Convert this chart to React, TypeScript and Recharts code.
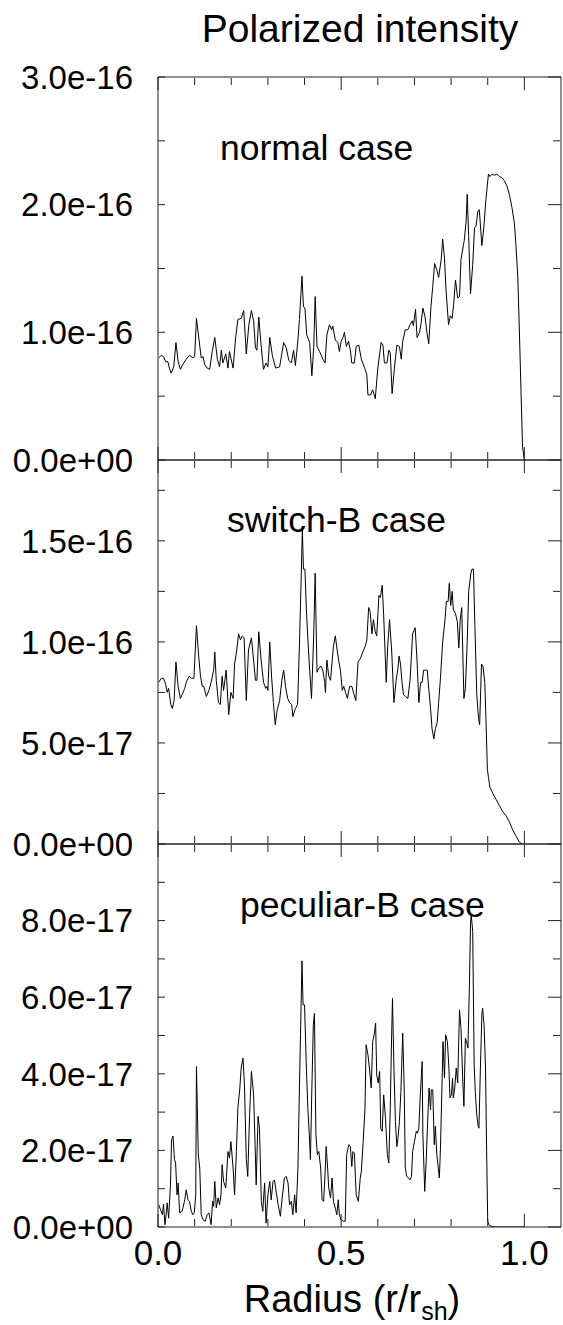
import React from "react";
import { Line, LineChart, XAxis, YAxis } from "recharts";

const FONT = "'Liberation Sans', Arial, Helvetica, sans-serif";

// radius r/r_sh, polarized intensity in units of 1e-16
const normalCase: [number, number][] = [
  [0.002, 0.8], [0.009, 0.82], [0.015, 0.81], [0.021, 0.77], [0.027, 0.77], [0.03, 0.73], [0.036, 0.68],
  [0.043, 0.73], [0.049, 0.92], [0.055, 0.77], [0.061, 0.71], [0.068, 0.75], [0.077, 0.79], [0.086, 0.82],
  [0.095, 0.8], [0.1, 0.81], [0.105, 1.11], [0.112, 0.94], [0.118, 0.8], [0.123, 0.81], [0.127, 0.75],
  [0.134, 0.72], [0.141, 0.71], [0.148, 0.85], [0.155, 0.96], [0.162, 0.79], [0.168, 0.73], [0.173, 0.86],
  [0.177, 0.76], [0.185, 0.83], [0.191, 0.72], [0.195, 0.85], [0.205, 0.72], [0.212, 0.96], [0.218, 1.1],
  [0.227, 1.11], [0.234, 1.17], [0.241, 0.83], [0.248, 1.06], [0.255, 1.17], [0.261, 1.09], [0.266, 0.88],
  [0.27, 0.86], [0.275, 1.12], [0.282, 0.88], [0.288, 0.71], [0.295, 0.76], [0.3, 0.73], [0.305, 0.96],
  [0.312, 0.82], [0.321, 0.72], [0.332, 0.73], [0.343, 0.92], [0.35, 0.88], [0.357, 0.78], [0.364, 0.76],
  [0.37, 0.86], [0.375, 0.74], [0.382, 0.94], [0.386, 1.1], [0.393, 1.44], [0.397, 1.2], [0.401, 1.19],
  [0.406, 0.98], [0.414, 0.92], [0.42, 0.66], [0.425, 0.88], [0.429, 1.28], [0.434, 0.89], [0.441, 0.85],
  [0.45, 0.79], [0.456, 0.76], [0.461, 0.98], [0.468, 1.06], [0.474, 1.02], [0.477, 1.05], [0.484, 0.94],
  [0.491, 0.92], [0.495, 0.85], [0.5, 0.93], [0.505, 0.96], [0.509, 1.0], [0.514, 0.89], [0.52, 0.93],
  [0.525, 0.86], [0.529, 0.76], [0.536, 0.76], [0.541, 0.89], [0.548, 0.9], [0.555, 0.79], [0.564, 0.72],
  [0.57, 0.67], [0.573, 0.51], [0.58, 0.51], [0.586, 0.55], [0.593, 0.48], [0.6, 0.72], [0.609, 0.92],
  [0.614, 0.9], [0.618, 0.76], [0.625, 0.76], [0.63, 0.86], [0.634, 0.84], [0.639, 0.52], [0.645, 0.71],
  [0.652, 0.9], [0.659, 0.89], [0.664, 0.79], [0.668, 0.93], [0.675, 1.02], [0.682, 1.02], [0.688, 1.06],
  [0.694, 1.09], [0.697, 1.05], [0.703, 1.18], [0.707, 0.96], [0.714, 1.0], [0.718, 1.07], [0.723, 1.19],
  [0.729, 1.12], [0.734, 1.0], [0.739, 0.91], [0.745, 1.2], [0.75, 1.36], [0.755, 1.54], [0.761, 1.49],
  [0.766, 1.43], [0.773, 1.57], [0.777, 1.73], [0.782, 1.58], [0.786, 1.34], [0.793, 1.06], [0.798, 1.13],
  [0.803, 1.11], [0.807, 1.22], [0.812, 1.41], [0.818, 1.27], [0.823, 1.28], [0.827, 1.57], [0.834, 1.69],
  [0.836, 1.72], [0.841, 1.87], [0.844, 2.08], [0.848, 1.75], [0.853, 1.3], [0.859, 1.53], [0.864, 1.82],
  [0.868, 1.83], [0.873, 1.95], [0.877, 1.96], [0.884, 1.68], [0.889, 1.81], [0.895, 2.04], [0.902, 2.24],
  [0.906, 2.22], [0.912, 2.24], [0.918, 2.23], [0.925, 2.24], [0.932, 2.22], [0.939, 2.21], [0.945, 2.19],
  [0.952, 2.15], [0.959, 2.08], [0.966, 1.98], [0.973, 1.85], [0.977, 1.68], [0.982, 1.44], [0.986, 1.05],
  [0.991, 0.52], [0.995, 0.1], [1.0, 0.0],
];

const switchBCase: [number, number][] = [
  [0.002, 0.8], [0.009, 0.82], [0.015, 0.82], [0.021, 0.79], [0.025, 0.75], [0.029, 0.77], [0.035, 0.69],
  [0.039, 0.67], [0.044, 0.71], [0.049, 0.9], [0.055, 0.78], [0.061, 0.72], [0.066, 0.74], [0.073, 0.77],
  [0.077, 0.8], [0.085, 0.83], [0.091, 0.82], [0.098, 0.82], [0.105, 1.08], [0.111, 0.93], [0.116, 0.83],
  [0.121, 0.78], [0.125, 0.78], [0.132, 0.73], [0.139, 0.76], [0.145, 0.8], [0.152, 0.86], [0.155, 0.95],
  [0.159, 0.81], [0.165, 0.7], [0.17, 0.69], [0.175, 0.83], [0.179, 0.76], [0.186, 0.86], [0.193, 0.64],
  [0.199, 0.75], [0.205, 0.72], [0.209, 0.89], [0.215, 0.96], [0.22, 1.04], [0.225, 1.01], [0.23, 1.03],
  [0.235, 1.02], [0.241, 0.71], [0.247, 0.96], [0.255, 1.02], [0.261, 0.91], [0.266, 0.81], [0.27, 0.81],
  [0.275, 1.05], [0.282, 0.9], [0.288, 0.8], [0.294, 0.77], [0.297, 0.78], [0.3, 0.76], [0.305, 1.0],
  [0.31, 0.83], [0.315, 0.7], [0.32, 0.59], [0.325, 0.66], [0.332, 0.71], [0.338, 0.81], [0.343, 0.86],
  [0.348, 0.78], [0.354, 0.72], [0.359, 0.7], [0.365, 0.69], [0.368, 0.63], [0.375, 0.67], [0.381, 0.69],
  [0.386, 0.98], [0.391, 1.33], [0.394, 1.56], [0.397, 1.36], [0.401, 1.36], [0.405, 1.16], [0.41, 0.98],
  [0.414, 0.86], [0.419, 0.72], [0.425, 1.03], [0.429, 1.34], [0.434, 0.85], [0.439, 0.87], [0.445, 0.88],
  [0.45, 0.86], [0.455, 0.8], [0.457, 0.75], [0.461, 0.91], [0.466, 0.83], [0.471, 0.81], [0.475, 0.9],
  [0.479, 0.98], [0.484, 1.03], [0.489, 0.96], [0.494, 0.9], [0.498, 0.86], [0.503, 0.76], [0.507, 0.78],
  [0.512, 0.75], [0.517, 0.72], [0.523, 0.78], [0.529, 0.78], [0.535, 0.74], [0.54, 0.71], [0.546, 0.9],
  [0.553, 0.92], [0.559, 0.95], [0.566, 0.98], [0.57, 1.01], [0.575, 1.17], [0.579, 1.15], [0.584, 1.04],
  [0.588, 1.11], [0.593, 1.05], [0.597, 1.03], [0.603, 1.23], [0.607, 1.22], [0.612, 1.28], [0.616, 1.13],
  [0.623, 0.8], [0.627, 0.98], [0.632, 1.11], [0.638, 0.95], [0.644, 0.7], [0.65, 0.81], [0.655, 0.87],
  [0.658, 0.93], [0.662, 0.89], [0.666, 0.8], [0.67, 0.74], [0.675, 0.73], [0.682, 0.72], [0.688, 0.81],
  [0.695, 1.04], [0.702, 1.07], [0.707, 0.91], [0.712, 0.7], [0.717, 0.8], [0.721, 0.8], [0.725, 0.86],
  [0.73, 0.86], [0.735, 0.86], [0.739, 0.77], [0.744, 0.67], [0.748, 0.57], [0.753, 0.52], [0.757, 0.57],
  [0.762, 0.6], [0.766, 0.7], [0.771, 0.82], [0.777, 1.0], [0.784, 1.12], [0.787, 1.2], [0.792, 1.2],
  [0.795, 1.29], [0.799, 1.18], [0.803, 1.25], [0.806, 1.16], [0.812, 1.14], [0.817, 1.1], [0.821, 0.97],
  [0.825, 1.11], [0.829, 1.17], [0.835, 0.72], [0.839, 0.77], [0.844, 1.0], [0.848, 1.25], [0.854, 1.34],
  [0.857, 1.36], [0.861, 1.36], [0.865, 1.08], [0.87, 0.74], [0.875, 0.62], [0.878, 0.59], [0.883, 0.89],
  [0.887, 0.88], [0.892, 0.8], [0.895, 0.63], [0.899, 0.37], [0.902, 0.33], [0.906, 0.28], [0.914, 0.25],
  [0.923, 0.22], [0.932, 0.19], [0.941, 0.16], [0.95, 0.14], [0.959, 0.11], [0.968, 0.07], [0.977, 0.04],
  [0.986, 0.01], [0.994, 0.0],
];

const peculiarBCase: [number, number][] = [
  [0.002, 0.058], [0.007, 0.045], [0.012, 0.032], [0.015, 0.06], [0.019, 0.006], [0.023, 0.041],
  [0.025, 0.063], [0.029, 0.023], [0.034, 0.11], [0.037, 0.228], [0.041, 0.237], [0.045, 0.176],
  [0.048, 0.167], [0.052, 0.084], [0.055, 0.115], [0.059, 0.037], [0.066, 0.041], [0.073, 0.071],
  [0.077, 0.097], [0.082, 0.071], [0.086, 0.067], [0.091, 0.041], [0.095, 0.032], [0.099, 0.037],
  [0.103, 0.084], [0.105, 0.419], [0.11, 0.189], [0.114, 0.154], [0.118, 0.032], [0.123, 0.019],
  [0.129, 0.015], [0.134, 0.032], [0.139, 0.037], [0.145, 0.006], [0.149, 0.067], [0.152, 0.054],
  [0.155, 0.119], [0.159, 0.05], [0.164, 0.076], [0.168, 0.058], [0.172, 0.084], [0.175, 0.163],
  [0.179, 0.119], [0.185, 0.102], [0.191, 0.197], [0.195, 0.18], [0.199, 0.223], [0.205, 0.154],
  [0.209, 0.084], [0.214, 0.197], [0.218, 0.31], [0.223, 0.358], [0.227, 0.415], [0.232, 0.441],
  [0.236, 0.371], [0.241, 0.176], [0.245, 0.132], [0.25, 0.293], [0.255, 0.406], [0.261, 0.345],
  [0.265, 0.215], [0.268, 0.11], [0.273, 0.289], [0.277, 0.258], [0.282, 0.067], [0.286, 0.041],
  [0.291, 0.115], [0.295, 0.01], [0.3, 0.084], [0.305, 0.119], [0.309, 0.071], [0.314, 0.119],
  [0.318, 0.123], [0.323, 0.089], [0.328, 0.058], [0.334, 0.028], [0.339, 0.076], [0.345, 0.128],
  [0.35, 0.132], [0.355, 0.115], [0.359, 0.058], [0.364, 0.067], [0.368, 0.032], [0.373, 0.084],
  [0.377, 0.037], [0.382, 0.154], [0.386, 0.363], [0.389, 0.502], [0.393, 0.695], [0.396, 0.58],
  [0.4, 0.58], [0.405, 0.415], [0.409, 0.31], [0.413, 0.241], [0.416, 0.176], [0.42, 0.363],
  [0.424, 0.528], [0.427, 0.558], [0.431, 0.241], [0.435, 0.189], [0.439, 0.197], [0.444, 0.154],
  [0.448, 0.071], [0.452, 0.067], [0.456, 0.137], [0.459, 0.21], [0.463, 0.154], [0.466, 0.102],
  [0.471, 0.076], [0.475, 0.128], [0.479, 0.067], [0.485, 0.045], [0.488, 0.032], [0.492, 0.071],
  [0.495, 0.032], [0.5, 0.019], [0.506, 0.015], [0.511, 0.015], [0.515, 0.189], [0.521, 0.215],
  [0.525, 0.21], [0.529, 0.158], [0.532, 0.197], [0.536, 0.193], [0.541, 0.084], [0.547, 0.067],
  [0.552, 0.128], [0.555, 0.145], [0.56, 0.223], [0.565, 0.31], [0.568, 0.476], [0.573, 0.45],
  [0.577, 0.415], [0.582, 0.363], [0.586, 0.484], [0.59, 0.502], [0.594, 0.532], [0.597, 0.397],
  [0.601, 0.376], [0.605, 0.406], [0.608, 0.258], [0.612, 0.25], [0.616, 0.345], [0.621, 0.284],
  [0.626, 0.189], [0.63, 0.167], [0.634, 0.31], [0.637, 0.467], [0.64, 0.597], [0.644, 0.415],
  [0.648, 0.276], [0.652, 0.21], [0.655, 0.232], [0.659, 0.276], [0.663, 0.354], [0.665, 0.415],
  [0.668, 0.506], [0.672, 0.363], [0.675, 0.154], [0.679, 0.132], [0.684, 0.128], [0.688, 0.123],
  [0.692, 0.132], [0.695, 0.197], [0.7, 0.223], [0.705, 0.25], [0.708, 0.245], [0.712, 0.258],
  [0.716, 0.345], [0.721, 0.432], [0.723, 0.241], [0.728, 0.093], [0.732, 0.171], [0.736, 0.276],
  [0.74, 0.363], [0.744, 0.306], [0.746, 0.358], [0.75, 0.358], [0.754, 0.215], [0.757, 0.263],
  [0.761, 0.189], [0.765, 0.154], [0.768, 0.128], [0.771, 0.206], [0.775, 0.363], [0.778, 0.484],
  [0.782, 0.389], [0.785, 0.502], [0.79, 0.484], [0.794, 0.415], [0.797, 0.337], [0.801, 0.345],
  [0.804, 0.389], [0.806, 0.337], [0.81, 0.363], [0.814, 0.415], [0.818, 0.376], [0.823, 0.567],
  [0.827, 0.519], [0.832, 0.38], [0.835, 0.315], [0.839, 0.493], [0.843, 0.48], [0.846, 0.467],
  [0.85, 0.632], [0.853, 0.793], [0.855, 0.815], [0.859, 0.771], [0.863, 0.423], [0.866, 0.354],
  [0.87, 0.293], [0.874, 0.263], [0.876, 0.258], [0.88, 0.415], [0.884, 0.554], [0.886, 0.571],
  [0.89, 0.528], [0.894, 0.415], [0.897, 0.197], [0.9, 0.015], [0.903, 0.006], [0.909, 0.002],
  [0.923, 0.0], [1.0, 0.0],
];

const radiusMajor = [0, 0.5, 1.0];
const radiusMinor = [0.1, 0.2, 0.3, 0.4, 0.6, 0.7, 0.8, 0.9];
const radiusLabels = ["0.0", "0.5", "1.0"];

const normalTicks = [0, 1, 2, 3];
const normalLabels = ["0.0e+00", "1.0e-16", "2.0e-16", "3.0e-16"];
const normalMinor = [0.5, 1.5, 2.5];

const switchTicks = [0, 0.5, 1, 1.5];
const switchLabels = ["0.0e+00", "5.0e-17", "1.0e-16", "1.5e-16"];
const switchMinor = [0.25, 0.75, 1.25, 1.75];

const peculiarTicks = [0, 0.2, 0.4, 0.6, 0.8];
const peculiarLabels = ["0.0e+00", "2.0e-17", "4.0e-17", "6.0e-17", "8.0e-17"];
const peculiarMinor = [0.1, 0.3, 0.5, 0.7, 0.9];

const AXIS = "#222";
const PAD = 20;

// tick marks only, the labels come from separate axes
const NoLabel = () => <g />;

type PanelProps = {
  series: [number, number][];
  yMax: number;
  labelTicks: number[];
  labels: string[];
  minorTicks: number[];
  top: number;
  plotH: number;
  withRadius?: boolean;
};

function Panel({ series, yMax, labelTicks, labels, minorTicks, top, plotH, withRadius }: PanelProps) {
  const data = series.map(([r, v]) => ({ r, v }));
  const allTicks = [...labelTicks, ...minorTicks].sort((a, b) => a - b);
  const xCommon = {
    dataKey: "r",
    type: "number" as const,
    domain: [0, 1.1],
    allowDataOverflow: true,
    interval: 0 as const,
    stroke: AXIS,
  };
  const yCommon = {
    type: "number" as const,
    domain: [0, yMax],
    allowDataOverflow: true,
    interval: 0 as const,
    stroke: AXIS,
  };
  const labelAxisH = 62;
  return (
    <div style={{ position: "absolute", left: 0, top: top - PAD }}>
      <LineChart
        width={563}
        height={PAD + plotH + (withRadius ? labelAxisH : PAD)}
        data={data}
        margin={{ top: PAD, right: 2, bottom: withRadius ? 0 : PAD, left: 0 }}
      >
        <XAxis xAxisId="bMaj" {...xCommon} ticks={radiusMajor} mirror height={1} tick={NoLabel} tickSize={13} />
        <XAxis xAxisId="bMin" {...xCommon} ticks={radiusMinor} mirror height={1} tick={NoLabel} tickSize={7} axisLine={false} />
        <XAxis xAxisId="tMaj" {...xCommon} orientation="top" ticks={radiusMajor} mirror height={1} tick={NoLabel} tickSize={13} />
        <XAxis xAxisId="tMin" {...xCommon} orientation="top" ticks={radiusMinor} mirror height={1} tick={NoLabel} tickSize={7} axisLine={false} />
        {withRadius && (
          <XAxis
            xAxisId="lab"
            {...xCommon}
            ticks={radiusMajor}
            height={labelAxisH}
            axisLine={false}
            tickLine={false}
            tickSize={6}
            tickMargin={7}
            tickFormatter={(v: number) => radiusLabels[radiusMajor.indexOf(v)] ?? ""}
            tick={{ fill: "#000", fontSize: 35, fontFamily: FONT }}
          />
        )}
        <YAxis
          yAxisId="lab"
          {...yCommon}
          ticks={labelTicks}
          width={158}
          axisLine={false}
          tickLine={false}
          tickSize={6}
          tickMargin={19}
          tickFormatter={(v: number) => labels[labelTicks.indexOf(v)] ?? ""}
          tick={{ fill: "#000", fontSize: 33, fontFamily: FONT }}
        />
        <YAxis yAxisId="l" {...yCommon} ticks={allTicks} mirror width={1} tick={NoLabel} tickSize={7} />
        <YAxis yAxisId="rMaj" {...yCommon} orientation="right" ticks={labelTicks} mirror width={1} tick={NoLabel} tickSize={13} />
        <YAxis yAxisId="rMin" {...yCommon} orientation="right" ticks={minorTicks} mirror width={1} tick={NoLabel} tickSize={7} axisLine={false} />
        <Line
          xAxisId="bMaj"
          yAxisId="lab"
          dataKey="v"
          type="linear"
          stroke="#000"
          strokeWidth={1}
          dot={false}
          activeDot={false}
          isAnimationActive={false}
        />
      </LineChart>
    </div>
  );
}

export default function App() {
  return (
    <div style={{ position: "absolute", left: 0, top: 0, width: 563, height: 1325, background: "#fff" }}>
      <Panel series={normalCase} yMax={3} labelTicks={normalTicks} labels={normalLabels} minorTicks={normalMinor} top={77} plotH={383} />
      <Panel series={switchBCase} yMax={1.9} labelTicks={switchTicks} labels={switchLabels} minorTicks={switchMinor} top={460} plotH={384} />
      <Panel series={peculiarBCase} yMax={1.0} labelTicks={peculiarTicks} labels={peculiarLabels} minorTicks={peculiarMinor} top={844} plotH={383} withRadius />
      <svg width={563} height={1325} style={{ position: "absolute", left: 0, top: 0, pointerEvents: "none" }}>
        <g fontFamily={FONT} fill="#000">
          <text x={360} y={42} fontSize={39} textAnchor="middle">Polarized intensity</text>
          <text x={220} y={160} fontSize={35.5}>normal case</text>
          <text x={227} y={532} fontSize={35.5}>switch-B case</text>
          <text x={240} y={917} fontSize={35.5}>peculiar-B case</text>
          <text x={352} y={1312} fontSize={38} textAnchor="middle">
            Radius (r/r<tspan fontSize={25} dy={8}>sh</tspan><tspan dy={-8}>)</tspan>
          </text>
        </g>
      </svg>
    </div>
  );
}
